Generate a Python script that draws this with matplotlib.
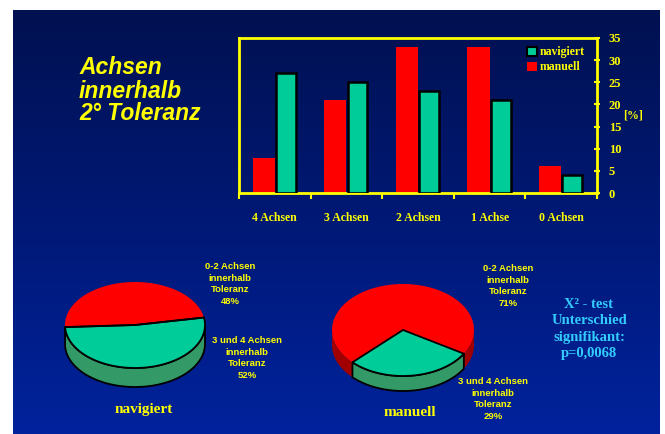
import numpy as np
from matplotlib import pyplot as plt
from matplotlib.patches import Polygon, Patch

# data
categories = ['4 Achsen', '3 Achsen', '2 Achsen', '1 Achse', '0 Achsen']
navigiert = [27, 25, 23, 21, 4]
manuell = [8, 21, 33, 33, 6]

pie_nav = [48, 52]   # 0-2 Achsen, 3 und 4 Achsen
pie_man = [71, 29]
pie_text = ['0-2 Achsen\ninnerhalb\nToleranz\n{}%', '3 und 4 Achsen\ninnerhalb\nToleranz\n{}%']

YEL = '#FFFF00'
TEAL = '#00CC99'
GREEN = '#339966'
RED = '#FF0000'
DRED = '#A00000'
serif = 'Liberation Serif'
sans = 'Liberation Sans'

fig = plt.figure(figsize=(6.65, 4.34), dpi=100)
fig.patch.set_facecolor('white')

# full figure pixel axes for background and pies
bg = fig.add_axes([0, 0, 1, 1])
bg.set_xlim(0, 665)
bg.set_ylim(434, 0)
bg.axis('off')
top = np.array([0x00, 0x10, 0x50]) / 255
bot = np.array([0x00, 0x22, 0x9C]) / 255
t = np.linspace(0, 1, 256)[:, None]
grad = (top[None, :] * (1 - t) + bot[None, :] * t)[:, None, :]
bg.imshow(grad, extent=(13, 660, 434, 10), aspect='auto', origin='upper', zorder=0)


def pie3d(ax, cx, cy, rx, ry, depth, spans, faces, sides, edges):
    def pt(th, dy=0):
        th = np.radians(th)
        return np.column_stack([cx + rx * np.cos(th), cy - ry * np.sin(th) + dy])
    # sides first
    for (a, b), sc, ec in zip(spans, sides, edges):
        for k in (-1, 0, 1):
            lo = max(a, -180 + 360 * k)
            hi = min(b, 360 * k)
            if hi > lo:
                th = np.linspace(lo, hi, 80)
                poly = np.vstack([pt(th), pt(th[::-1], depth)])
                ax.add_patch(Polygon(poly, closed=True, fc=sc, ec=ec, lw=1.3, zorder=2))
    for (a, b), fc, ec in zip(spans, faces, edges):
        th = np.linspace(a, b, 120)
        poly = np.vstack([[cx, cy], pt(th)])
        ax.add_patch(Polygon(poly, closed=True, fc=fc, ec=ec, lw=1.3, zorder=3))


# navigiert pie: teal wedge in front
a_n = 10
sp_nav = [(a_n, a_n + pie_nav[0] * 3.6), (a_n - pie_nav[1] * 3.6, a_n)]
pie3d(bg, 135, 325, 70, 43, 19, sp_nav, [RED, TEAL], [DRED, GREEN], ['none', 'black'])
bg.plot([135 + 70 * np.cos(np.radians(a_n + 172.8)), 135, 135 + 70 * np.cos(np.radians(a_n))],
        [325 - 43 * np.sin(np.radians(a_n + 172.8)), 325, 325 - 43 * np.sin(np.radians(a_n))],
        color='black', lw=1.3, zorder=4)

# manuell pie
a_m = -31
sp_man = [(a_m, a_m + pie_man[0] * 3.6), (a_m - pie_man[1] * 3.6, a_m)]
pie3d(bg, 403, 330, 71, 46, 15, sp_man, [RED, TEAL], [DRED, GREEN], ['none', 'black'])

lab = dict(color=YEL, fontsize=6.8, fontweight='bold', family=sans, ha='center',
           va='center', linespacing=1.4, zorder=5)
bg.text(230, 284, pie_text[0].format(pie_nav[0]), **lab)
bg.text(247, 358, pie_text[1].format(pie_nav[1]), **lab)
bg.text(508, 286, pie_text[0].format(pie_man[0]), **lab)
bg.text(493, 399, pie_text[1].format(pie_man[1]), **lab)

bg.text(144, 410, 'navigiert', color=YEL, fontsize=11, fontweight='bold', family=serif,
        ha='center', va='center')
bg.text(410, 412, 'manuell', color=YEL, fontsize=11, fontweight='bold', family=serif,
        ha='center', va='center')
bg.text(589, 329, 'X² - test\nUnterschied\nsignifikant:\np=0,0068', color='#33CCFF',
        fontsize=10.5, fontweight='bold', family=serif, ha='center', va='center', linespacing=1.3)
bg.text(79, 91, 'Achsen\ninnerhalb\n2° Toleranz', color=YEL, fontsize=16.5, fontweight='bold',
        style='italic', family=sans, ha='left', va='center', linespacing=1.0)

# bar chart
ax = fig.add_axes([239 / 665, 1 - 193 / 434, 358 / 665, 155 / 434])
ax.patch.set_alpha(0)
x = np.arange(len(categories))
w = 0.31
ax.bar(x - w / 2, manuell, w, color=RED, label='manuell', zorder=2)
ax.bar(x + w / 2, navigiert, w * 0.9, color=TEAL, edgecolor='black', lw=1.8,
       label='navigiert', zorder=3)
ax.set_xlim(-0.5, len(categories) - 0.5)
ax.set_ylim(0, 35)
ax.set_yticks(range(0, 36, 5))
ax.yaxis.tick_right()
ax.set_xticks(x)
ax.set_xticklabels(categories)
ax.set_xticks(np.arange(-0.5, len(categories), 1), minor=True)
ax.tick_params(axis='x', which='major', length=0, pad=14, colors=YEL, labelsize=8.5)
ax.tick_params(axis='x', which='minor', length=4, direction='out', color=YEL, width=1.5)
ax.tick_params(axis='y', direction='inout', length=5, width=1.5, colors=YEL, labelsize=9, pad=6)
for lbl in ax.get_xticklabels() + ax.get_yticklabels():
    lbl.set_family(serif)
    lbl.set_fontweight('bold')
for s in ax.spines.values():
    s.set_color(YEL)
    s.set_linewidth(2)
ax.text(1.10, 0.50, '[%]', transform=ax.transAxes, color=YEL, fontsize=8.5,
        fontweight='bold', family=serif, ha='center', va='center')
handles = [Patch(fc=TEAL, ec='black', lw=1.5, label='navigiert'),
           Patch(fc=RED, ec='none', label='manuell')]
leg = ax.legend(handles=handles, loc='upper right', frameon=False, handlelength=0.8,
                handleheight=0.8, handletextpad=0.3, labelspacing=0.25,
                prop={'family': serif, 'weight': 'bold', 'size': 8.5},
                bbox_to_anchor=(0.99, 1.0), borderaxespad=0.3)
for txt in leg.get_texts():
    txt.set_color(YEL)

fig.savefig('out.png', dpi=100)
